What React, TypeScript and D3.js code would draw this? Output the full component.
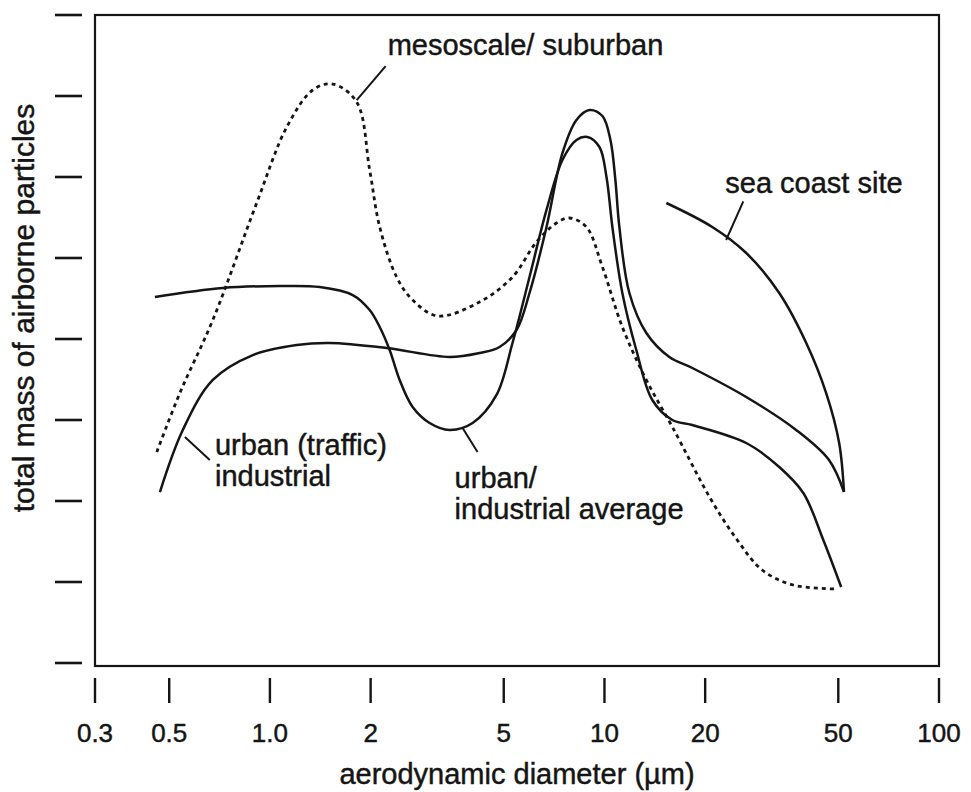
import React from 'react';
import * as d3 from 'd3';

// diameter (µm) / relative mass
const mesoD = [0.459, 0.538, 0.675, 0.913, 1.123, 1.343, 1.54, 1.817, 1.987, 2.129, 2.392, 2.671, 3.171, 4.233, 5.31, 6.264, 7.187, 7.86, 8.83, 9.86, 11.31, 13.34, 15.96, 20.86, 24.94, 29.6, 36.66, 49.6];
const mesoM = [2.605, 3.333, 4.235, 5.679, 6.617, 7.074, 7.148, 6.926, 6.086, 5.383, 4.765, 4.481, 4.284, 4.457, 4.765, 5.198, 5.432, 5.494, 5.383, 4.889, 4.148, 3.494, 2.914, 2.012, 1.519, 1.148, 0.963, 0.914];

const avgD = [0.453, 0.723, 1.07, 1.409, 1.768, 1.987, 2.129, 2.28, 2.442, 2.671, 3.001, 3.443, 4.035, 4.757, 5.31, 5.97, 6.711, 7.489, 8.247, 8.895, 9.66, 10.14, 10.56, 11.31, 12.45, 13.9, 15.96, 18.31, 26.53, 33.3, 39.3, 45.1, 51.0];
const avgM = [4.519, 4.63, 4.654, 4.642, 4.543, 4.358, 4.148, 3.864, 3.494, 3.16, 2.963, 2.877, 2.963, 3.309, 3.951, 4.765, 5.593, 6.21, 6.457, 6.494, 6.37, 6.0, 5.383, 4.568, 3.864, 3.247, 3.0, 2.938, 2.716, 2.42, 2.099, 1.519, 0.938];

const trafficD = [0.469, 0.549, 0.675, 0.889, 1.203, 1.509, 2.233, 3.443, 4.233, 4.857, 5.46, 5.97, 6.711, 7.489, 8.247, 9.02, 9.86, 10.42, 10.78, 11.08, 11.87, 13.34, 15.63, 18.31, 26.53, 37.4, 46.9, 52.0];
const trafficM = [2.111, 2.877, 3.494, 3.802, 3.926, 3.951, 3.889, 3.778, 3.827, 3.901, 4.111, 4.568, 5.383, 6.296, 6.704, 6.827, 6.753, 6.457, 5.963, 5.383, 4.568, 4.074, 3.778, 3.642, 3.284, 2.877, 2.506, 2.111];

const seaD = [15.31, 21.0, 26.53, 33.3, 40.1, 46.0, 50.3, 52.0];
const seaM = [5.679, 5.383, 5.062, 4.568, 3.951, 3.333, 2.716, 2.111];

const xTicks = [0.3, 0.5, 1.0, 2, 5, 10, 20, 50, 100];
const xTickLabels = ['0.3', '0.5', '1.0', '2', '5', '10', '20', '50', '100'];
const yTicks = [0, 1, 2, 3, 4, 5, 6, 7, 8];

// label text lines, anchor and leader line (data coords)
const labels = [
  { lines: ['mesoscale/ suburban'], at: [2.249, 7.506], from: [1.817, 6.95], to: [2.218, 7.37] },
  { lines: ['sea coast site'], at: [22.97, 5.802], from: [23.1, 5.222], to: [26.0, 5.7] },
  { lines: ['urban (traffic)', 'industrial'], at: [0.685, 2.568], from: [0.557, 2.79], to: [0.661, 2.506] },
  { lines: ['urban/', 'industrial average'], at: [3.565, 2.16], from: [3.766, 2.901], to: [4.175, 2.605] },
];

const series = [
  { d: mesoD, m: mesoM, dash: '4 4' },
  { d: avgD, m: avgM, dash: null },
  { d: trafficD, m: trafficM, dash: null },
  { d: seaD, m: seaM, dash: null },
];

export default function App() {
  const width = 971;
  const height = 792;
  const x = d3.scaleLog().domain([0.3, 100]).range([95, 939]);
  const y = d3.scaleLinear().domain([0, 8]).range([663, 15]);
  const font = '"Liberation Sans", Arial, Helvetica, sans-serif';
  const ink = '#151515';

  const line = d3.line<[number, number]>()
    .x(p => x(p[0]))
    .y(p => y(p[1]))
    .curve(d3.curveCatmullRom.alpha(0.5));

  // scanned text looks a touch heavier than plain regular
  const textStyle = { fill: ink, stroke: ink, strokeWidth: 0.45 };

  return (
    <svg width={width} height={height} style={{ position: 'absolute', left: 0, top: 0, background: '#fff' }} fontFamily={font}>
      {/* frame */}
      <rect x={x(0.3)} y={y(8)} width={x(100) - x(0.3)} height={y(0) + 3 - y(8)} fill="none" stroke={ink} strokeWidth={2.2} />

      {/* y ticks, outside the frame, no labels */}
      {yTicks.map(t => (
        <line key={t} x1={55} x2={82} y1={y(t)} y2={y(t)} stroke={ink} strokeWidth={2.6} />
      ))}

      {/* x ticks */}
      {xTicks.map((t, i) => (
        <g key={t} transform={`translate(${x(t)},0)`}>
          <line y1={678} y2={703} stroke={ink} strokeWidth={2.4} />
          <text y={742} textAnchor="middle" fontSize={26} {...textStyle}>{xTickLabels[i]}</text>
        </g>
      ))}

      <text x={517} y={784} textAnchor="middle" fontSize={29} {...textStyle}>aerodynamic diameter (µm)</text>
      <text transform="translate(34,308) rotate(-90)" textAnchor="middle" fontSize={30} {...textStyle}>total mass of airborne particles</text>

      {/* curves */}
      {series.map((s, i) => (
        <path key={i} d={line(s.d.map((v, j) => [v, s.m[j]] as [number, number])) || ''}
          fill="none" stroke={ink} strokeWidth={s.dash ? 2.8 : 2.5}
          strokeDasharray={s.dash || undefined} strokeLinejoin="round" />
      ))}

      {/* annotations */}
      {labels.map((l, i) => (
        <g key={i}>
          <line x1={x(l.from[0])} y1={y(l.from[1])} x2={x(l.to[0])} y2={y(l.to[1])} stroke={ink} strokeWidth={2} />
          <text x={x(l.at[0])} y={y(l.at[1])} fontSize={29} {...textStyle}>
            {l.lines.map((t, k) => (
              <tspan key={k} x={x(l.at[0])} dy={k === 0 ? 0 : 31}>{t}</tspan>
            ))}
          </text>
        </g>
      ))}
    </svg>
  );
}
